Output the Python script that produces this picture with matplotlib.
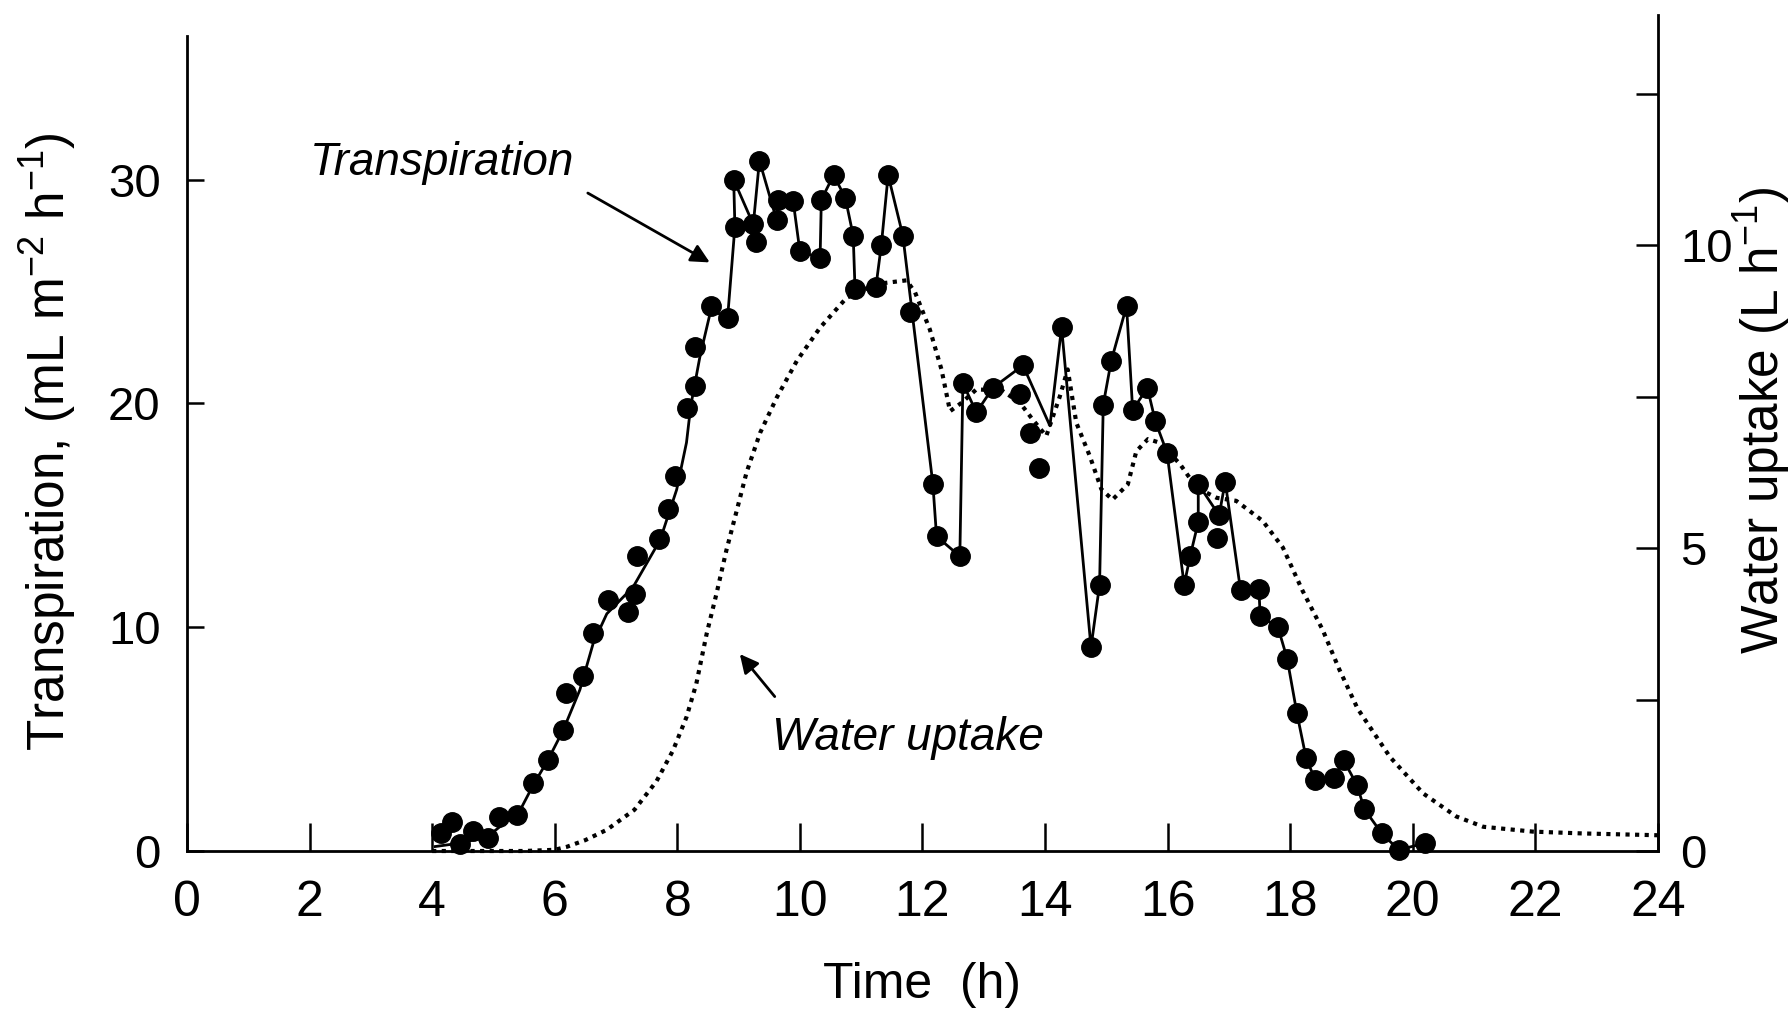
import matplotlib
matplotlib.use("Agg")
import matplotlib.pyplot as plt
from matplotlib import font_manager

# ---------------------------------------------------------------------------
# Data
# ---------------------------------------------------------------------------

# measured transpiration (mL m-2 h-1), scatter points
transp_t = [4.15, 4.32, 4.45, 4.67, 4.91, 5.09, 5.38, 5.65, 5.89, 6.14, 6.19, 6.46,
            6.63, 6.87, 7.20, 7.31, 7.34, 7.70, 7.85, 7.96, 8.16, 8.29, 8.29, 8.55,
            8.82, 8.92, 8.94, 9.24, 9.29, 9.34, 9.62, 9.65, 9.89, 10.00, 10.33, 10.35,
            10.55, 10.74, 10.87, 10.90, 11.24, 11.33, 11.44, 11.68, 11.79, 12.17, 12.23,
            12.61, 12.66, 12.88, 13.15, 13.59, 13.64, 13.75, 13.90, 14.27, 14.75, 14.89,
            14.95, 15.08, 15.33, 15.43, 15.67, 15.80, 15.99, 16.27, 16.37, 16.50, 16.50,
            16.80, 16.84, 16.94, 17.19, 17.49, 17.51, 17.80, 17.95, 18.11, 18.26, 18.41,
            18.71, 18.87, 19.09, 19.21, 19.49, 19.77, 20.20]
transp_v = [0.8, 1.3, 0.3, 0.9, 0.6, 1.53, 1.61, 3.04, 4.07, 5.41, 7.06, 7.8,
            9.75, 11.2, 10.7, 11.5, 13.2, 13.95, 15.26, 16.75, 19.8, 20.8, 22.5, 24.35,
            23.8, 30.0, 27.9, 28.0, 27.2, 30.85, 28.2, 29.1, 29.05, 26.8, 26.5, 29.1,
            30.2, 29.2, 27.5, 25.1, 25.2, 27.1, 30.2, 27.5, 24.07, 16.4, 14.06,
            13.17, 20.9, 19.6, 20.7, 20.4, 21.7, 18.7, 17.1, 23.4, 9.1, 11.9,
            19.95, 21.9, 24.35, 19.7, 20.7, 19.2, 17.8, 11.9, 13.2, 14.7, 16.4,
            14.0, 15.0, 16.5, 11.65, 11.7, 10.5, 10.0, 8.6, 6.15, 4.15, 3.17,
            3.26, 4.06, 2.95, 1.87, 0.8, 0.05, 0.35]

# path of the solid line (smooth in the morning, point-to-point afterwards)
line_t = [4.05, 4.45, 4.91, 5.20, 5.45, 5.65, 5.89, 6.14, 6.41, 6.63, 6.85, 7.28,
          7.72, 7.99, 8.15, 8.22, 8.37, 8.55, 8.82, 8.94, 8.92, 9.24, 9.34, 9.62,
          9.65, 9.89, 10.00, 10.33, 10.35, 10.55, 10.74, 10.87, 10.90, 11.24, 11.33,
          11.44, 11.68, 12.17, 12.23, 12.61, 12.66, 12.88, 13.15, 13.64, 14.08, 14.27,
          14.75, 14.89, 14.95, 15.08, 15.33, 15.43, 15.67, 15.80, 15.99, 16.27, 16.37,
          16.50, 16.50, 16.84, 16.94, 17.19, 17.49, 17.51, 17.80, 17.95, 18.11, 18.26,
          18.41, 18.71, 18.87, 19.09, 19.21, 19.49, 19.77, 20.20]
line_v = [0.2, 0.35, 0.65, 1.3, 1.9, 2.95, 4.07, 5.41, 7.2, 9.3, 10.6, 11.8,
          13.9, 16.15, 18.25, 19.9, 22.1, 24.2, 23.8, 27.9, 30.0, 28.0, 30.85, 28.2,
          29.1, 29.05, 26.8, 26.5, 29.1, 30.2, 29.2, 27.5, 25.1, 25.2, 27.1,
          30.2, 27.5, 16.4, 14.06, 13.17, 20.9, 19.6, 20.7, 21.7, 19.0, 23.4,
          9.1, 11.9, 19.95, 21.9, 24.35, 19.7, 20.7, 19.2, 17.8, 11.9, 13.2,
          14.7, 16.4, 15.0, 16.5, 11.65, 11.7, 10.5, 10.0, 8.6, 6.15, 4.15,
          3.17, 3.26, 4.06, 2.95, 1.87, 0.8, 0.05, 0.35]

# water uptake (L h-1), right axis
uptake_t = [4.0, 5.5, 6.0, 6.2, 6.5, 6.85, 7.3, 7.66, 7.93, 8.15, 8.31, 8.48, 8.64,
            8.8, 8.97, 9.13, 9.35, 9.62, 9.95, 10.33, 10.76, 11.25, 11.74, 11.88,
            12.12, 12.31, 12.45, 12.64, 12.88, 13.3, 13.59, 13.8, 14.02, 14.24, 14.37,
            14.51, 14.73, 14.92, 15.1, 15.35, 15.49, 15.68, 15.87, 16.2, 16.47, 16.8,
            17.12, 17.55, 17.88, 18.2, 18.53, 18.8, 19.1, 19.63, 20.17, 20.71, 21.15,
            21.96, 22.77, 24.0]
uptake_v = [0.0, 0.0, 0.02, 0.07, 0.18, 0.35, 0.68, 1.15, 1.66, 2.21, 2.76, 3.59, 4.25,
            4.96, 5.62, 6.25, 6.9, 7.48, 8.09, 8.64, 9.13, 9.36, 9.42, 9.22,
            8.61, 7.95, 7.26, 7.4, 7.62, 7.6, 7.4, 7.12, 6.85, 7.5, 7.95,
            7.07, 6.52, 5.97, 5.8, 6.05, 6.6, 6.8, 6.74, 6.39, 6.0, 5.83,
            5.78, 5.45, 5.01, 4.3, 3.65, 3.0, 2.35, 1.55, 0.95, 0.57, 0.4,
            0.32, 0.29, 0.26]

x_ticks = list(range(0, 25, 2))
left_ticks = [0, 10, 20, 30]
right_ticks = [0, 2.5, 5, 7.5, 10, 12.5]
right_labels = ["0", "", "5", "", "10", ""]


def _font(name, fallback):
    try:
        font_manager.findfont(name, fallback_to_default=False)
        return name
    except Exception:
        return fallback


NARROW = _font("Liberation Sans Narrow", "Liberation Sans")
REGULAR = _font("Liberation Sans", "DejaVu Sans")

plt.rcParams["font.family"] = [REGULAR, "DejaVu Sans"]
plt.rcParams["mathtext.fontset"] = "custom"
plt.rcParams["mathtext.rm"] = REGULAR

# axis scales: 10 mL per 223.5 px on the left, 1 L/h per 60.5 px on the right
RIGHT_TOP = 13.8
LEFT_TOP = RIGHT_TOP * 60.5 / 22.35

fig = plt.figure(figsize=(17.91, 10.21), dpi=100)
fig.patch.set_facecolor("white")
ax = fig.add_axes([0.1044, 0.1665, 0.8213, 0.8188])
ax2 = ax.twinx()

ax.plot(line_t, line_v, color="black", lw=2.0, zorder=3, clip_on=False)
ax.plot(transp_t, transp_v, "o", color="black", ms=14, zorder=4, clip_on=False)
ax2.plot(uptake_t, uptake_v, color="black", lw=3.0, ls=(0, (1.0, 1.3)),
         zorder=2, clip_on=False)

ax.set_xlim(0, 24)
ax.set_ylim(0, LEFT_TOP)
ax2.set_ylim(0, RIGHT_TOP)

for side in ("top", "right"):
    ax.spines[side].set_visible(False)
for side in ("top", "left", "bottom"):
    ax2.spines[side].set_visible(False)
ax.spines["left"].set_bounds(0, 36.4)
for sp in (ax.spines["left"], ax.spines["bottom"], ax2.spines["right"]):
    sp.set_linewidth(2.0)

ax.set_xticks(x_ticks)
ax.set_xticklabels([str(t) for t in x_ticks], family=[NARROW, "DejaVu Sans"],
                   fontsize=36)
ax.tick_params(axis="x", direction="in", length=20, width=1.8, pad=21)
ax.set_yticks(left_ticks)
ax.set_yticklabels([str(t) for t in left_ticks], fontsize=34)
ax.tick_params(axis="y", direction="in", length=12, width=1.8, pad=19)
ax2.set_yticks(right_ticks)
ax2.set_yticklabels(right_labels, fontsize=34)
ax2.tick_params(axis="y", direction="in", length=16, width=1.8, pad=16)

ax.set_xlabel("Time  (h)", family=[NARROW, "DejaVu Sans"], fontsize=36, labelpad=26)
ax.set_ylabel(r"Transpiration, (mL m$^{-2}$ h$^{-1}$)", fontsize=37)
ax2.set_ylabel(r"Water uptake (L h$^{-1}$)", fontsize=37)
ax.yaxis.set_label_coords(-0.074, 0.49)
ax2.yaxis.set_label_coords(1.050, 0.515)

ax.text(4.16, 30.2, "Transpiration", ha="center", va="baseline", fontsize=33,
        style="italic", family=[NARROW, "DejaVu Sans"])
ax.annotate("", xy=(8.53, 26.3), xytext=(6.54, 29.4),
            arrowprops=dict(arrowstyle="-|>", color="black", lw=2.0,
                            mutation_scale=28, shrinkA=0, shrinkB=0))
ax.annotate("", xy=(9.02, 8.8), xytext=(9.59, 6.9),
            arrowprops=dict(arrowstyle="-|>", color="black", lw=2.0,
                            mutation_scale=28, shrinkA=0, shrinkB=0))
ax.text(11.76, 4.5, "Water uptake", ha="center", va="baseline", fontsize=33,
        style="italic", family=[NARROW, "DejaVu Sans"])

fig.savefig("out.png", dpi=100, facecolor="white")
